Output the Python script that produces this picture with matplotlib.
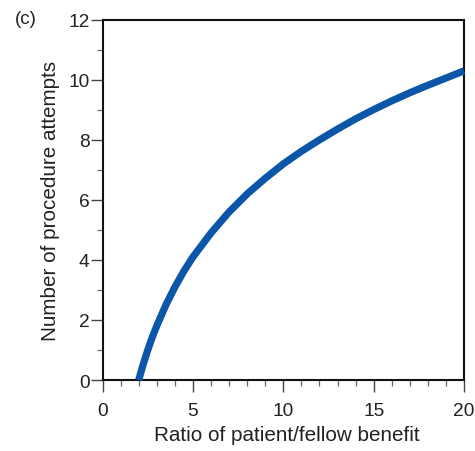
import numpy as np
import matplotlib.pyplot as plt
from matplotlib.ticker import MultipleLocator

plt.rcParams['font.family'] = ['Liberation Sans', 'DejaVu Sans']

# values
ratio = [2.0, 2.1, 2.25, 2.5, 2.75, 3.0, 3.5, 4.0, 4.5, 5.0, 6.0, 7.0, 8.0,
         9.0, 10.0, 11.0, 12.0, 13.0, 14.0, 15.0, 16.0, 17.0, 18.0, 19.0, 20.0]
attempts = [0.0, 0.22, 0.53, 1.0, 1.43, 1.81, 2.5, 3.1, 3.63, 4.1, 4.9, 5.6,
            6.2, 6.72, 7.2, 7.62, 8.0, 8.36, 8.7, 9.01, 9.3, 9.57, 9.82,
            10.06, 10.3]

fig = plt.figure(figsize=(4.75, 4.52), dpi=100)
ax = fig.add_axes([0.216, 0.157, 0.761, 0.797])

ax.plot(ratio, attempts, color='#0b56a8', lw=5.2, solid_capstyle='butt',
        solid_joinstyle='round', clip_on=False, zorder=3)

ax.set_xlim(0, 20)
ax.set_ylim(0, 12)
ax.xaxis.set_major_locator(MultipleLocator(5))
ax.xaxis.set_minor_locator(MultipleLocator(1))
ax.yaxis.set_major_locator(MultipleLocator(2))
ax.yaxis.set_minor_locator(MultipleLocator(1))

for s in ax.spines.values():
    s.set_linewidth(1.5)
    s.set_color('#111111')
ax.tick_params(which='major', length=8.5, width=1.0, color='#444444',
               labelsize=13.8, labelcolor='#222222', pad=1)
ax.tick_params(which='minor', length=4.5, width=0.9, color='#666666')
ax.tick_params(axis='x', which='major', pad=7.5)

ax.set_xlabel("Ratio of patient/fellow benefit", fontsize=14.9,
              color='#222222', labelpad=7)
ax.xaxis.set_label_coords(0.51, -0.125)
ax.set_ylabel("Number of procedure attempts", fontsize=14.9,
              color='#222222', labelpad=6)

fig.text(0.032, 0.975, "(c)", fontsize=13.5, color='#222222', va='top')

fig.savefig("out.png", dpi=100)
